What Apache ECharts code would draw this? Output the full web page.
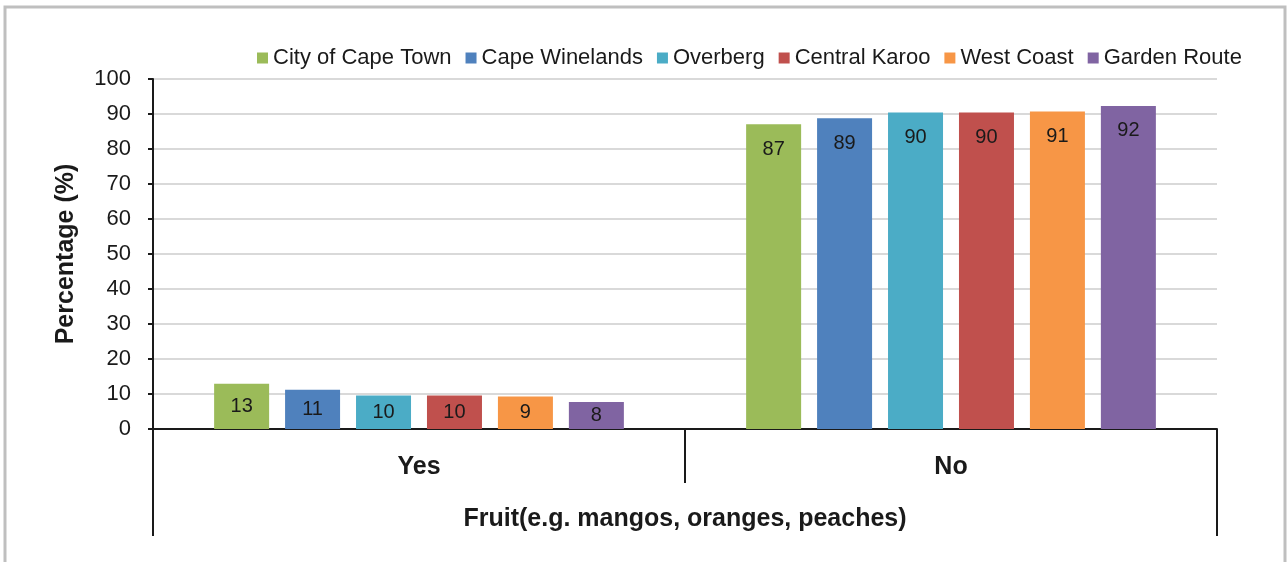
<!DOCTYPE html>
<html>
<head>
<meta charset="utf-8">
<script src="https://cdn.jsdelivr.net/npm/echarts@6/dist/echarts.min.js"></script>
<style>
  html, body { margin: 0; padding: 0; background: #fff; }
  #chart { width: 1287px; height: 562px; }
</style>
</head>
<body>
<div id="chart"></div>
<script>
// 数据
const categories = ['Yes', 'No'];
const groupLabel = ['Fruit(e.g. mangos, oranges, peaches)'];
const regions = ['City of Cape Town', 'Cape Winelands', 'Overberg', 'Central Karoo', 'West Coast', 'Garden Route'];
const yesValues = [12.9, 11.2, 9.6, 9.6, 9.3, 7.7];
const noValues = [87.1, 88.8, 90.4, 90.4, 90.7, 92.3];
const colors = ['#9bbb59', '#4f81bd', '#4bacc6', '#c0504d', '#f79646', '#8064a2'];

const font = '"Liberation Sans", Arial, sans-serif';
const dark = '#1a1a1a';

const series = regions.map((name, i) => ({
    name: name,
    type: 'bar',
    barWidth: 55,
    barGap: '29%',
    itemStyle: { color: colors[i] },
    label: {
        show: true,
        color: dark,
        fontFamily: font,
        fontSize: 20,
        formatter: p => Math.round(p.value)
    },
    data: [yesValues[i], noValues[i]].map(v => ({
        value: v,
        // 矮柱子标签居中，高柱子标签放顶部
        label: v > 20 ? { position: 'insideTop', distance: 15 } : { position: 'inside' }
    }))
}));

const myChart = echarts.init(document.getElementById('chart'));
myChart.setOption({
    animation: false,
    textStyle: { fontFamily: font },
    graphic: [{
        type: 'rect',
        shape: { x: 5, y: 7, width: 1280, height: 600 },
        style: { fill: 'none', stroke: '#bfbfbf', lineWidth: 3 }
    }],
    legend: {
        data: regions,
        left: 252,
        top: 42,
        itemWidth: 11,
        itemHeight: 11,
        itemGap: 14,
        icon: 'rect',
        textStyle: { fontSize: 22, color: dark }
    },
    grid: { left: 153, right: 70, top: 79, bottom: 133 },
    xAxis: [{
        type: 'category',
        data: categories,
        axisLine: { lineStyle: { color: dark, width: 2 } },
        axisTick: { show: true, length: 54, lineStyle: { color: dark, width: 2 } },
        axisLabel: { fontSize: 25, fontWeight: 'bold', color: dark, margin: 26 }
    }, {
        // 外层分组轴
        type: 'category',
        position: 'bottom',
        offset: 54,
        data: groupLabel,
        axisLine: { show: false },
        axisTick: { show: true, length: 53, lineStyle: { color: dark, width: 2 } },
        axisLabel: { fontSize: 25, fontWeight: 'bold', color: dark, margin: 24 },
        splitLine: { show: false }
    }],
    yAxis: {
        type: 'value',
        min: 0,
        max: 100,
        interval: 10,
        axisLine: { show: true, lineStyle: { color: dark, width: 2 } },
        axisTick: { show: true, length: 5, lineStyle: { color: dark, width: 2 } },
        axisLabel: { fontSize: 22, color: dark, margin: 22 },
        splitLine: { lineStyle: { color: '#d9d9d9', width: 2 } },
        name: 'Percentage (%)',
        nameLocation: 'middle',
        nameGap: 74,
        nameTextStyle: { fontSize: 25, fontWeight: 'bold', color: dark }
    },
    series: series
});
</script>
</body>
</html>
